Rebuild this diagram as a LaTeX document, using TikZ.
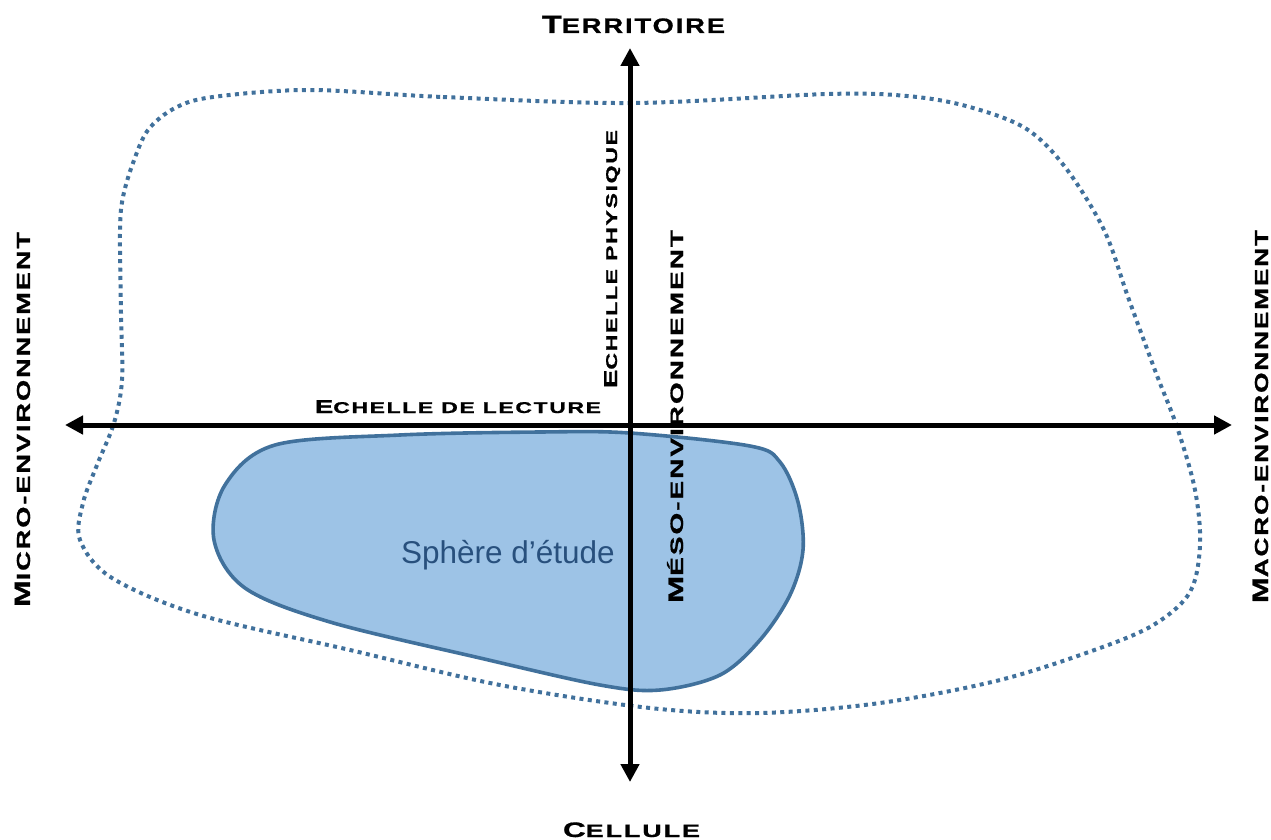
\documentclass[tikz,border=0pt]{standalone}
\usepackage{fontspec}
\usepackage{graphicx}
\setmainfont{Liberation Sans}
\newfontfamily\cpf{Liberation Sans}[FakeBold=0.8,LetterSpace=7]
\usetikzlibrary{arrows.meta}
\definecolor{blobline}{RGB}{65,113,156}
\definecolor{spherefill}{RGB}{157,195,230}
\definecolor{spheretext}{RGB}{40,80,125}
\newcommand\Bx[1]{{\fontsize{\bsz}{\bsz}\selectfont#1}}
\newcommand\Sx[1]{{\fontsize{\ssz}{\ssz}\selectfont#1}}
\newcommand\lab[4]{\def\bsz{#2pt}\def\ssz{#3pt}\resizebox{#1pt}{\height}{\cpf\bfseries #4}}
\tikzset{
  axisline/.style={line width=5pt, black, {Triangle[length=18pt,width=18pt]}-{Triangle[length=18pt,width=18pt]}},
  bloblinestyle/.style={blobline, line width=4pt, dash pattern=on 4pt off 4.4pt},
  spherestyle/.style={draw=blobline, fill=spherefill, line width=3.6pt},
  lbl/.style={inner sep=0pt, outer sep=0pt, anchor=base west},
  vlbl/.style={inner sep=0pt, outer sep=0pt, anchor=base west, rotate=90}
}
\begin{document}
\begin{tikzpicture}[x=1pt,y=-1pt]
\useasboundingbox (0,0) rectangle (1271,840);
% dotted environment blob
\draw[bloblinestyle] plot[smooth cycle, tension=0.55] coordinates {
 (309,90) (443,97) (632,103) (828,94) (907,96) (966,106) (1025,128) (1065,167)
 (1104,230) (1128,297) (1156,373) (1177,427) (1195,490) (1200,545) (1190,592)
 (1155,624) (1100,648) (1000,680) (880,703) (760,713) (650,708) (500,685)
 (350,650) (200,615) (112,578) (80,540) (83,503) (97,465) (114,423) (122,380)
 (121,313) (120,230) (123,197) (133,163) (148,130) (175,108) (213,97)};
% study sphere
\path[spherestyle] plot[smooth cycle, tension=0.55] coordinates {
 (275,445) (400,435) (540,432) (630,433) (750,446) (780,462) (798,502) (803,550)
 (790,595) (760,640) (720,675) (660,690) (600,685) (480,658) (330,622) (245,588)
 (214,540) (225,485)};
\node[lbl, font=\fontsize{31.5pt}{31.5pt}\selectfont, text=spheretext] (sph) at (401,563) {Sphère d’étude};
% axes
\coordinate (L) at (65,425);
\coordinate (R) at (1232,425);
\coordinate (T) at (630,48);
\coordinate (B) at (630,782);
\draw[axisline] (L) -- (R);
\draw[axisline] (B) -- (T);
% labels
\node[lbl] (terr) at (542,33) {\lab{183}{25}{21}{\Bx{T}\Sx{ERRITOIRE}}};
\node[lbl] (cell) at (563,837) {\lab{137}{21}{18}{\Bx{C}\Sx{ELLULE}}};
\node[lbl] (lect) at (315,413) {\lab{286}{18.6}{15.6}{\Bx{E}\Sx{CHELLE DE LECTURE}}};
\node[vlbl] (phys) at (617,388) {\lab{258}{18.6}{15.6}{\Bx{E}\Sx{CHELLE PHYSIQUE}}};
\node[vlbl] (meso) at (683,603) {\lab{373}{21}{18}{\Bx{M}\Sx{ÉSO-ENVIRONNEMENT}}};
\node[vlbl] (micro) at (30,607) {\lab{375}{22.3}{18.9}{\Bx{M}\Sx{ICRO-ENVIRONNEMENT}}};
\node[vlbl] (macro) at (1268,603) {\lab{373}{22.3}{18.9}{\Bx{M}\Sx{ACRO-ENVIRONNEMENT}}};
\end{tikzpicture}
\end{document}
